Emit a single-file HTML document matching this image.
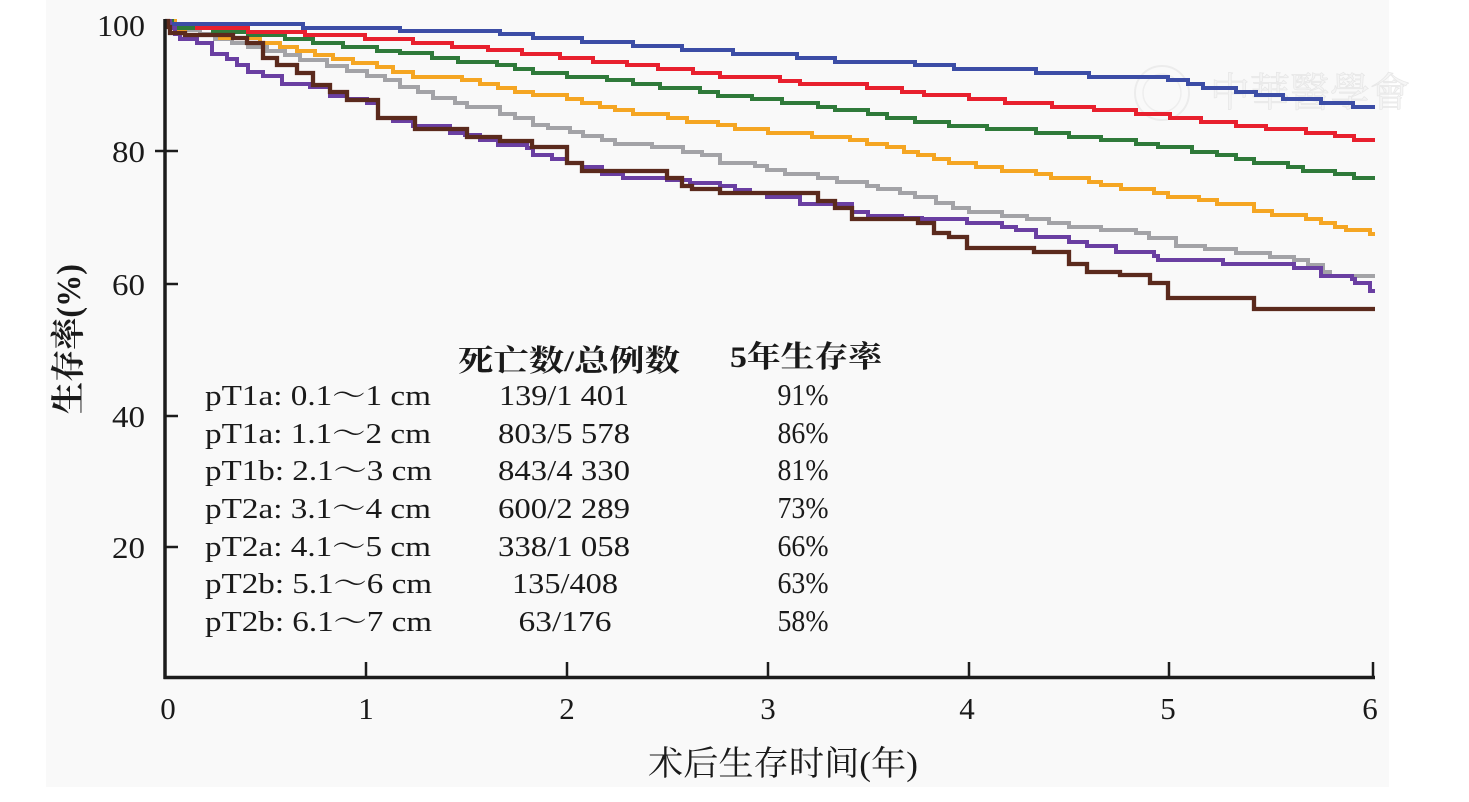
<!DOCTYPE html>
<html><head><meta charset="utf-8"><style>
html,body{margin:0;padding:0;background:#fff;}
svg{display:block;}
</style></head><body>
<svg width="1469" height="802" viewBox="0 0 1469 802" xmlns="http://www.w3.org/2000/svg">
<rect x="0" y="0" width="1469" height="802" fill="#ffffff"/>
<rect x="46" y="0" width="1343" height="787" fill="#f9f9f9"/>

<!-- watermark -->
<g opacity="0.8">
<circle cx="1162" cy="93" r="27" fill="none" stroke="#e9e9e9" stroke-width="2"/>
<circle cx="1162" cy="93" r="19" fill="none" stroke="#ececec" stroke-width="1.5"/>
<text x="1310" y="106" font-family="'Noto Serif CJK TC','Noto Serif CJK SC',serif" font-size="40" fill="#f4f4f4" stroke="#e3e3e3" stroke-width="0.8" text-anchor="middle" textLength="200" lengthAdjust="spacingAndGlyphs">中華醫學會</text>
</g>

<!-- curves -->
<g fill="none" stroke-width="4" stroke-linejoin="miter" stroke-linecap="butt">
<path stroke="#a3a3a7" d="M165 21 H170 V25 H180 V30 H200 V34 H215 V39 H232 V43 H248 V47 H267 V51 H285 V55 H300 V60 H327 V66 H347 V71 H367 V76 H385 V80 H400 V87 H418 V92 H433 V98 H455 V103 H467 V107 H500 V114 H515 V118 H533 V125 H548 V128 H570 V132 H583 V136 H602 V140 H615 V144 H652 V147 H683 V152 H702 V155 H720 V163 H755 V166 H767 V170 H785 V174 H818 V178 H837 V182 H867 V186 H878 V189 H900 V193 H915 V197 H936 V203 H953 V208 H969 V212 H1002 V216 H1027 V219 H1049 V223 H1069 V227 H1101 V230 H1136 V233 H1149 V238 H1176 V246 H1205 V249 H1236 V253 H1270 V257 H1294 V260 H1308 V265 H1323 V272 H1330 V276 H1375"/>
<path stroke="#f5a623" d="M165 21 H175 V30 H185 V35 H220 V38 H260 V43 H280 V47 H297 V51 H315 V55 H333 V59 H353 V63 H377 V67 H393 V72 H413 V77 H462 V80 H480 V84 H498 V88 H515 V92 H533 V95 H567 V99 H582 V103 H600 V107 H615 V110 H633 V114 H668 V118 H687 V122 H718 V125 H735 V129 H768 V133 H812 V137 H850 V140 H867 V144 H887 V147 H904 V152 H918 V155 H934 V159 H949 V163 H976 V167 H1002 V171 H1036 V174 H1051 V178 H1089 V182 H1101 V185 H1121 V189 H1154 V193 H1168 V197 H1199 V200 H1217 V204 H1254 V211 H1272 V215 H1306 V219 H1321 V223 H1335 V227 H1346 V230 H1370 V234 H1375"/>
<path stroke="#2f7a3a" d="M165 21 H172 V25 H177 V28 H213 V32 H248 V35 H285 V39 H313 V43 H343 V47 H377 V51 H400 V53 H432 V58 H458 V62 H497 V65 H515 V69 H533 V73 H567 V77 H607 V80 H633 V84 H660 V88 H700 V92 H718 V96 H752 V99 H782 V103 H818 V107 H835 V110 H868 V114 H887 V118 H915 V122 H949 V126 H987 V129 H1036 V133 H1069 V137 H1101 V140 H1136 V144 H1158 V147 H1192 V152 H1217 V155 H1236 V159 H1254 V163 H1288 V167 H1303 V171 H1335 V174 H1354 V178 H1375"/>
<path stroke="#e8202e" d="M165 21 H170 V24 H197 V28 H248 V32 H305 V35 H365 V39 H413 V43 H452 V47 H488 V50 H522 V54 H560 V58 H593 V62 H627 V65 H658 V69 H693 V73 H720 V77 H780 V81 H800 V84 H867 V88 H902 V92 H924 V95 H969 V99 H1005 V103 H1052 V107 H1094 V110 H1136 V114 H1170 V118 H1201 V122 H1236 V126 H1266 V129 H1306 V133 H1335 V136 H1354 V140 H1375"/>
<path stroke="#3c4da6" d="M165 21 H168 V24 H303 V28 H400 V31 H500 V34 H533 V38 H582 V42 H633 V46 H682 V50 H733 V54 H797 V58 H835 V62 H915 V65 H954 V69 H1036 V73 H1089 V77 H1168 V80 H1188 V84 H1203 V88 H1236 V92 H1256 V95 H1283 V99 H1321 V103 H1353 V107 H1375"/>
<path stroke="#6a3fa2" d="M165 21 H170 V28 H175 V34 H180 V39 H197 V43 H212 V54 H227 V59 H237 V65 H248 V72 H263 V76 H282 V84 H310 V87 H330 V96 H347 V99 H367 V103 H378 V118 H393 V121 H413 V126 H450 V133 H465 V135 H480 V140 H498 V145 H527 V148 H533 V155 H552 V159 H567 V163 H582 V167 H602 V174 H623 V178 H667 V180 H690 V183 H720 V186 H735 V190 H750 V193 H767 V197 H800 V204 H852 V212 H868 V216 H902 V218 H922 V219 H967 V223 H1002 V227 H1016 V230 H1036 V237 H1069 V242 H1087 V246 H1116 V252 H1154 V256 H1158 V260 H1223 V264 H1294 V268 H1321 V276 H1352 V279 H1355 V283 H1370 V291 H1375"/>
<path stroke="#5b2a1d" stroke-width="4.3" d="M165 21 H168 V27 H170 V33 H185 V35 H233 V38 H247 V43 H263 V58 H277 V65 H297 V73 H313 V85 H330 V92 H347 V100 H378 V118 H415 V129 H467 V137 H500 V141 H532 V147 H567 V163 H582 V171 H667 V178 H682 V186 H692 V189 H720 V193 H818 V201 H835 V208 H852 V219 H918 V223 H934 V233 H949 V237 H967 V248 H1034 V252 H1069 V264 H1087 V272 H1120 V275 H1150 V283 H1168 V298 H1254 V309 H1375"/>
</g>

<!-- axes -->
<g stroke="#1c1c1c" stroke-width="3.5" fill="none">
<line x1="165" y1="19" x2="165" y2="679"/>
<line x1="163.5" y1="677.5" x2="1375" y2="677.5"/>
</g>
<g stroke="#1c1c1c" stroke-width="2.5">
<line x1="155" y1="151" x2="178" y2="151"/>
<line x1="164" y1="284" x2="178" y2="284"/>
<line x1="164" y1="416" x2="178" y2="416"/>
<line x1="164" y1="547" x2="178" y2="547"/>
<line x1="366" y1="662" x2="366" y2="678"/>
<line x1="567" y1="662" x2="567" y2="678"/>
<line x1="768" y1="662" x2="768" y2="678"/>
<line x1="969" y1="662" x2="969" y2="678"/>
<line x1="1169" y1="662" x2="1169" y2="678"/>
<line x1="1373" y1="662" x2="1373" y2="678"/>
</g>

<!-- tick labels -->
<g font-family="'Liberation Serif',serif" font-size="31" fill="#1a1a1a">
<text x="145" y="36" text-anchor="end" textLength="48" lengthAdjust="spacingAndGlyphs">100</text>
<text x="145" y="162" text-anchor="end" textLength="33" lengthAdjust="spacingAndGlyphs">80</text>
<text x="145" y="295" text-anchor="end" textLength="33" lengthAdjust="spacingAndGlyphs">60</text>
<text x="145" y="427" text-anchor="end" textLength="33" lengthAdjust="spacingAndGlyphs">40</text>
<text x="145" y="558" text-anchor="end" textLength="33" lengthAdjust="spacingAndGlyphs">20</text>
<g text-anchor="middle">
<text x="168" y="719">0</text>
<text x="366" y="719">1</text>
<text x="567" y="719">2</text>
<text x="768" y="719">3</text>
<text x="967" y="719">4</text>
<text x="1168" y="719">5</text>
<text x="1370" y="719">6</text>
</g>
</g>

<!-- axis titles -->
<text transform="translate(80,339) rotate(-90)" text-anchor="middle" font-family="'Liberation Serif','Noto Serif CJK SC',serif" font-size="34" font-weight="bold" fill="#1a1a1a" textLength="150" lengthAdjust="spacingAndGlyphs">生存率(%)</text>
<text x="783" y="775" text-anchor="middle" font-family="'Liberation Serif','Noto Serif CJK SC',serif" font-size="34" fill="#1a1a1a" textLength="270" lengthAdjust="spacingAndGlyphs">术后生存时间(年)</text>

<!-- legend table -->
<g font-family="'Liberation Serif','Noto Serif CJK SC',serif" fill="#1a1a1a">
<text x="569" y="371" text-anchor="middle" font-size="30" font-weight="bold" textLength="222" lengthAdjust="spacingAndGlyphs">死亡数/总例数</text>
<text x="806" y="367" text-anchor="middle" font-size="30" font-weight="bold" textLength="152" lengthAdjust="spacingAndGlyphs">5年生存率</text>
</g>
<g font-family="'Liberation Serif','Noto Serif CJK SC',serif" font-size="28" fill="#1a1a1a">
<text x="205" y="405" textLength="226" lengthAdjust="spacingAndGlyphs">pT1a: 0.1～1 cm</text>
<text x="205" y="443" textLength="226" lengthAdjust="spacingAndGlyphs">pT1a: 1.1～2 cm</text>
<text x="205" y="480" textLength="227" lengthAdjust="spacingAndGlyphs">pT1b: 2.1～3 cm</text>
<text x="205" y="518" textLength="226" lengthAdjust="spacingAndGlyphs">pT2a: 3.1～4 cm</text>
<text x="205" y="556" textLength="226" lengthAdjust="spacingAndGlyphs">pT2a: 4.1～5 cm</text>
<text x="205" y="593" textLength="227" lengthAdjust="spacingAndGlyphs">pT2b: 5.1～6 cm</text>
<text x="205" y="631" textLength="227" lengthAdjust="spacingAndGlyphs">pT2b: 6.1～7 cm</text>
<g text-anchor="middle">
<text x="564" y="405" textLength="130" lengthAdjust="spacingAndGlyphs">139/1 401</text>
<text x="564" y="443" textLength="132" lengthAdjust="spacingAndGlyphs">803/5 578</text>
<text x="564" y="480" textLength="132" lengthAdjust="spacingAndGlyphs">843/4 330</text>
<text x="564" y="518" textLength="132" lengthAdjust="spacingAndGlyphs">600/2 289</text>
<text x="564" y="556" textLength="132" lengthAdjust="spacingAndGlyphs">338/1 058</text>
<text x="565" y="593" textLength="106" lengthAdjust="spacingAndGlyphs">135/408</text>
<text x="565" y="631" textLength="93" lengthAdjust="spacingAndGlyphs">63/176</text>
</g>
</g>
<g font-family="'Liberation Serif',serif" font-size="31" fill="#1a1a1a" text-anchor="middle">
<text x="803" y="405" textLength="51" lengthAdjust="spacingAndGlyphs">91%</text>
<text x="803" y="443" textLength="51" lengthAdjust="spacingAndGlyphs">86%</text>
<text x="803" y="480" textLength="51" lengthAdjust="spacingAndGlyphs">81%</text>
<text x="803" y="518" textLength="51" lengthAdjust="spacingAndGlyphs">73%</text>
<text x="803" y="556" textLength="51" lengthAdjust="spacingAndGlyphs">66%</text>
<text x="803" y="593" textLength="51" lengthAdjust="spacingAndGlyphs">63%</text>
<text x="803" y="631" textLength="51" lengthAdjust="spacingAndGlyphs">58%</text>
</g>
</svg>
</body></html>
